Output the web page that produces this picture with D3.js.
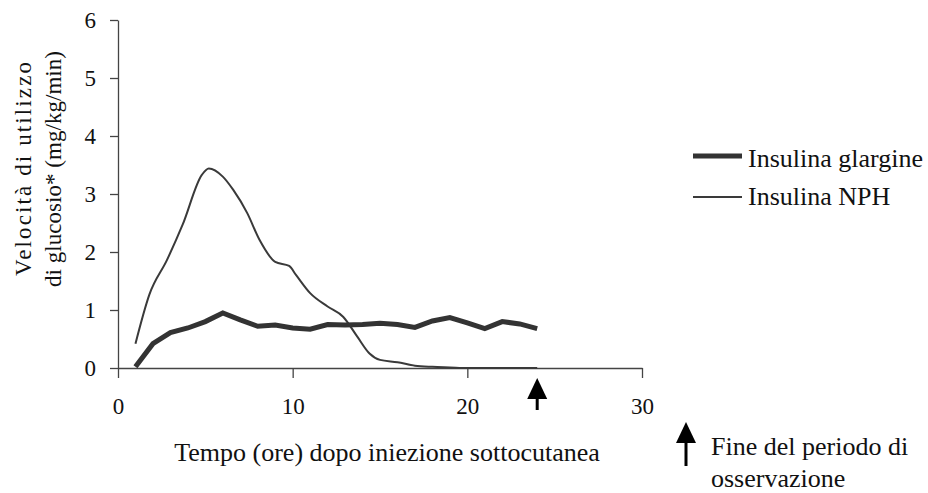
<!DOCTYPE html>
<html>
<head>
<meta charset="utf-8">
<script src="https://cdn.jsdelivr.net/npm/d3@7"></script>
<style>
  body { margin: 0; background: #fff; }
  text { font-family: "Liberation Serif", "Times New Roman", serif; fill: #111; }
  .axis path, .axis line { stroke: #444; stroke-width: 1.3; }
</style>
</head>
<body>
<svg id="chart"></svg>
<script>
// glucose utilisation rate (mg/kg/min) vs hours after injection
const glargineHours = [1, 2, 3, 4, 5, 6, 7, 8, 9, 10, 11, 12, 13, 14, 15, 16, 17, 18, 19, 20, 21, 22, 23, 24];
const glargineValues = [0.02, 0.42, 0.61, 0.69, 0.8, 0.95, 0.83, 0.72, 0.74, 0.69, 0.67, 0.75, 0.74, 0.75, 0.77, 0.75, 0.7, 0.81, 0.87, 0.78, 0.68, 0.8, 0.76, 0.68];

const nphHours = [1, 1.8, 2.8, 3.7, 4.8, 5.2, 6, 6.6, 7.4, 8.1, 9, 9.8, 10.2, 11, 12, 12.9, 13.7, 14.4, 15, 16, 17, 18, 19, 20, 22, 24];
const nphValues = [0.42, 1.27, 1.86, 2.47, 3.33, 3.44, 3.3, 3.07, 2.67, 2.21, 1.83, 1.76, 1.6, 1.29, 1.06, 0.88, 0.54, 0.25, 0.14, 0.1, 0.04, 0.02, 0.01, 0, 0, 0];

const xTicks = [0, 10, 20, 30];
const yTicks = [0, 1, 2, 3, 4, 5, 6];
const seriesNames = ['Insulina glargine', 'Insulina NPH'];
const endOfObservation = 24;

const serif = '"Liberation Serif", "Times New Roman", serif';

const width = 928, height = 493;
const margin = {top: 20, right: 286, bottom: 125, left: 118};
const innerW = width - margin.left - margin.right;
const innerH = height - margin.top - margin.bottom;

const svg = d3.select('#chart')
    .attr('width', width)
    .attr('height', height);

const chart = svg.append('g')
    .attr('transform', `translate(${margin.left},${margin.top})`);

const xScale = d3.scaleLinear().domain([0, 30]).range([0, innerW]);
const yScale = d3.scaleLinear().domain([0, 6]).range([innerH, 0]);

const xAxis = d3.axisBottom(xScale)
    .tickValues(xTicks)
    .tickSize(10)
    .tickSizeOuter(0)
    .tickPadding(20);

const yAxis = d3.axisLeft(yScale)
    .tickValues(yTicks)
    .tickFormat(d3.format('d'))
    .tickSize(8)
    .tickSizeOuter(0)
    .tickPadding(14);

chart.append('g')
    .attr('class', 'axis x-axis')
    .attr('transform', `translate(0,${innerH})`)
    .call(xAxis)
    .attr('font-family', serif)
    .attr('font-size', 23);

chart.append('g')
    .attr('class', 'axis y-axis')
    .call(yAxis)
    .attr('font-family', serif)
    .attr('font-size', 23);

const line = d3.line()
    .x(d => xScale(d[0]))
    .y(d => yScale(d[1]))
    .curve(d3.curveMonotoneX);

const glargine = glargineHours.map((h, i) => [h, glargineValues[i]]);
const nph = nphHours.map((h, i) => [h, nphValues[i]]);

chart.append('path')
    .datum(nph)
    .attr('fill', 'none')
    .attr('stroke', '#3a3a3a')
    .attr('stroke-width', 2)
    .attr('d', line);

chart.append('path')
    .datum(glargine)
    .attr('fill', 'none')
    .attr('stroke', '#333')
    .attr('stroke-width', 5)
    .attr('d', d3.line().x(d => xScale(d[0])).y(d => yScale(d[1])));

// arrow marking the end of the observation period
function drawArrow(g, x, yTip, yEnd) {
    g.append('line')
        .attr('x1', x).attr('x2', x)
        .attr('y1', yTip + 18).attr('y2', yEnd)
        .attr('stroke', '#000')
        .attr('stroke-width', 3);
    g.append('path')
        .attr('d', `M${x},${yTip} L${x + 10},${yTip + 21} L${x - 10},${yTip + 21} Z`)
        .attr('fill', '#000');
}

drawArrow(chart, xScale(endOfObservation), innerH + 10, innerH + 42);

// axis titles
chart.append('text')
    .attr('x', 387 - margin.left)
    .attr('y', 461 - margin.top)
    .attr('text-anchor', 'middle')
    .attr('font-family', serif)
    .style('font-size', '26px')
    .text('Tempo (ore) dopo iniezione sottocutanea');

const yTitle = svg.append('g')
    .attr('transform', 'translate(0,169) rotate(-90)')
    .attr('font-family', serif)
    .style('font-size', '23px');
yTitle.append('text').attr('x', -107).attr('y', 31)
    .attr('textLength', 214).attr('lengthAdjust', 'spacing')
    .text('Velocità di utilizzo');
yTitle.append('text').attr('x', -118).attr('y', 61)
    .attr('textLength', 236).attr('lengthAdjust', 'spacing')
    .text('di glucosio* (mg/kg/min)');

// legend
const legend = svg.append('g').attr('transform', 'translate(693,156)');
legend.append('line')
    .attr('x1', 0).attr('x2', 49).attr('y1', 0).attr('y2', 0)
    .attr('stroke', '#333').attr('stroke-width', 5);
legend.append('text').attr('x', 55).attr('y', 11).style('font-size', '26px').text(seriesNames[0]);
legend.append('line')
    .attr('x1', 0).attr('x2', 49).attr('y1', 41).attr('y2', 41)
    .attr('stroke', '#3a3a3a').attr('stroke-width', 2);
legend.append('text').attr('x', 55).attr('y', 49).style('font-size', '26px').text(seriesNames[1]);

drawArrow(svg, 686, 422, 466);
svg.append('text').attr('x', 711).attr('y', 455).style('font-size', '26px').text('Fine del periodo di');
svg.append('text').attr('x', 711).attr('y', 487).style('font-size', '26px').text('osservazione');
</script>
</body>
</html>
